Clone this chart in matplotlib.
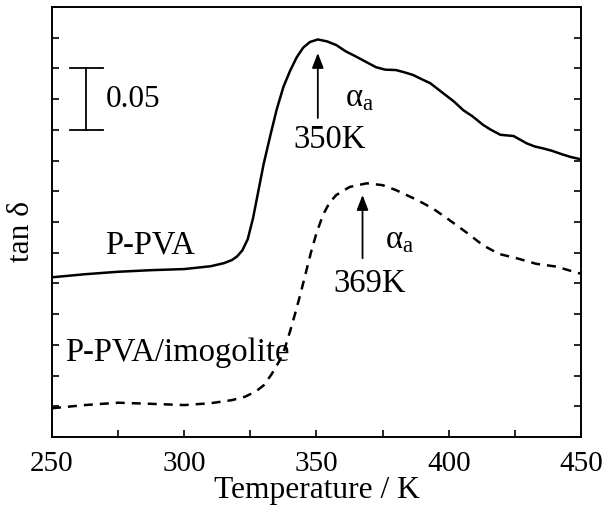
import matplotlib
matplotlib.use("Agg")
import matplotlib.pyplot as plt
from matplotlib.ticker import MultipleLocator, NullFormatter

plt.rcParams["font.family"] = ["Liberation Serif", "DejaVu Serif"]
plt.rcParams["mathtext.fontset"] = "custom"
plt.rcParams["mathtext.rm"] = "Liberation Serif"
plt.rcParams["mathtext.it"] = "Liberation Serif:italic"

# P-PVA (solid)
temp_ppva = [250, 262.5, 275, 287.5, 300, 310, 315, 318, 320, 322, 324, 326,
             328, 330, 332.5, 335, 337.5, 340, 342.5, 345, 347.5, 350.5, 354,
             357.5, 361, 365, 369, 372.5, 376, 380, 383, 386.5, 390, 393, 396,
             399, 402, 405.5, 409, 413, 416, 419.5, 422, 424.5, 427, 429.5, 432.5,
             435.5, 439, 443, 446, 450]
tan_ppva = [0.130, 0.1325, 0.1345, 0.1358, 0.1367, 0.139, 0.1415, 0.144, 0.147,
            0.152, 0.161, 0.178, 0.200, 0.222, 0.245, 0.267, 0.285, 0.298, 0.309,
            0.317, 0.3215, 0.3236, 0.322, 0.319, 0.314, 0.3096, 0.305, 0.301,
            0.299, 0.2987, 0.297, 0.2947, 0.291, 0.288, 0.283, 0.278, 0.273,
            0.266, 0.261, 0.254, 0.250, 0.246, 0.2455, 0.245, 0.242, 0.239,
            0.2365, 0.235, 0.233, 0.230, 0.228, 0.226]

# P-PVA/imogolite (dashed)
temp_imo = [250, 262.5, 275, 287.5, 300, 310, 318, 323, 327, 330, 333, 336, 338,
            340, 342, 344, 346, 348, 350, 352.5, 355, 357.5, 362.5, 369, 375,
            380, 385, 388, 394, 400, 407, 413, 419, 425.7, 433, 441, 448.4, 450]
tan_imo = [0.0234, 0.026, 0.0279, 0.027, 0.026, 0.0275, 0.030, 0.0328, 0.037,
           0.042, 0.051, 0.062, 0.072, 0.086, 0.101, 0.117, 0.134, 0.151, 0.166,
           0.181, 0.191, 0.197, 0.2035, 0.2065, 0.205, 0.201, 0.196, 0.193,
           0.186, 0.177, 0.166, 0.156, 0.149, 0.1455, 0.141, 0.1386, 0.1337,
           0.133]

TICK_FS = 21
LABEL_FS = 22.7
TEXT_FS = 23.5

fig = plt.figure(figsize=(6.08, 5.16), dpi=100, facecolor="white")
ax = fig.add_axes([0.0855, 0.1531, 0.8701, 0.8333])

ax.plot(temp_ppva, tan_ppva, color="black", lw=1.8, solid_joinstyle="round")
ax.plot(temp_imo, tan_imo, color="black", lw=1.8,
        linestyle=(0, (3.6, 2.8)), dash_capstyle="butt")

ax.set_xlim(250, 450)
ax.set_ylim(0, 0.35)
ax.xaxis.set_major_locator(MultipleLocator(50))
ax.xaxis.set_minor_locator(MultipleLocator(25))
ax.yaxis.set_major_locator(MultipleLocator(0.025))
ax.yaxis.set_major_formatter(NullFormatter())
ax.tick_params(which="both", direction="in", length=5, width=1.2,
               top=False, right=True, labelsize=TICK_FS, pad=10)
for s in ax.spines.values():
    s.set_linewidth(1.4)

ax.set_xlabel("Temperature / K", fontsize=LABEL_FS, labelpad=-1)
ax.set_ylabel("tan δ", fontsize=LABEL_FS)
ax.yaxis.set_label_coords(-0.030, 0.477)

# scale bar 0.05
ax.plot([262.8, 262.8], [0.25, 0.30], color="black", lw=1.3)
ax.plot([257, 269.3], [0.30, 0.30], color="black", lw=1.3)
ax.plot([257, 269.3], [0.25, 0.25], color="black", lw=1.3)
ax.text(270.3, 0.275, "0.05", fontsize=22.5, ha="left", va="center")

# peak markers
arrow = dict(arrowstyle="-|>,head_length=0.9,head_width=0.35", color="black", lw=1.3,
             shrinkA=0, shrinkB=0)
ax.annotate("", xy=(350.5, 0.3126), xytext=(350.5, 0.2597), arrowprops=arrow)
ax.text(355.1, 0.2418, "350K", fontsize=TEXT_FS, ha="center", va="center")
ax.text(360.8, 0.276, r"$\mathrm{\alpha}_\mathrm{a}$", fontsize=TEXT_FS, ha="left", va="center")

ax.annotate("", xy=(367.4, 0.197), xytext=(367.4, 0.1455), arrowprops=arrow)
ax.text(370.2, 0.125, "369K", fontsize=TEXT_FS, ha="center", va="center")
ax.text(375.9, 0.160, r"$\mathrm{\alpha}_\mathrm{a}$", fontsize=TEXT_FS, ha="left", va="center")

ax.text(270, 0.156, "P-PVA", fontsize=TEXT_FS, ha="left", va="center")
ax.text(254.8, 0.0684, "P-PVA/imogolite", fontsize=TEXT_FS, ha="left", va="center")

fig.savefig("out.png", dpi=100, facecolor="white")
